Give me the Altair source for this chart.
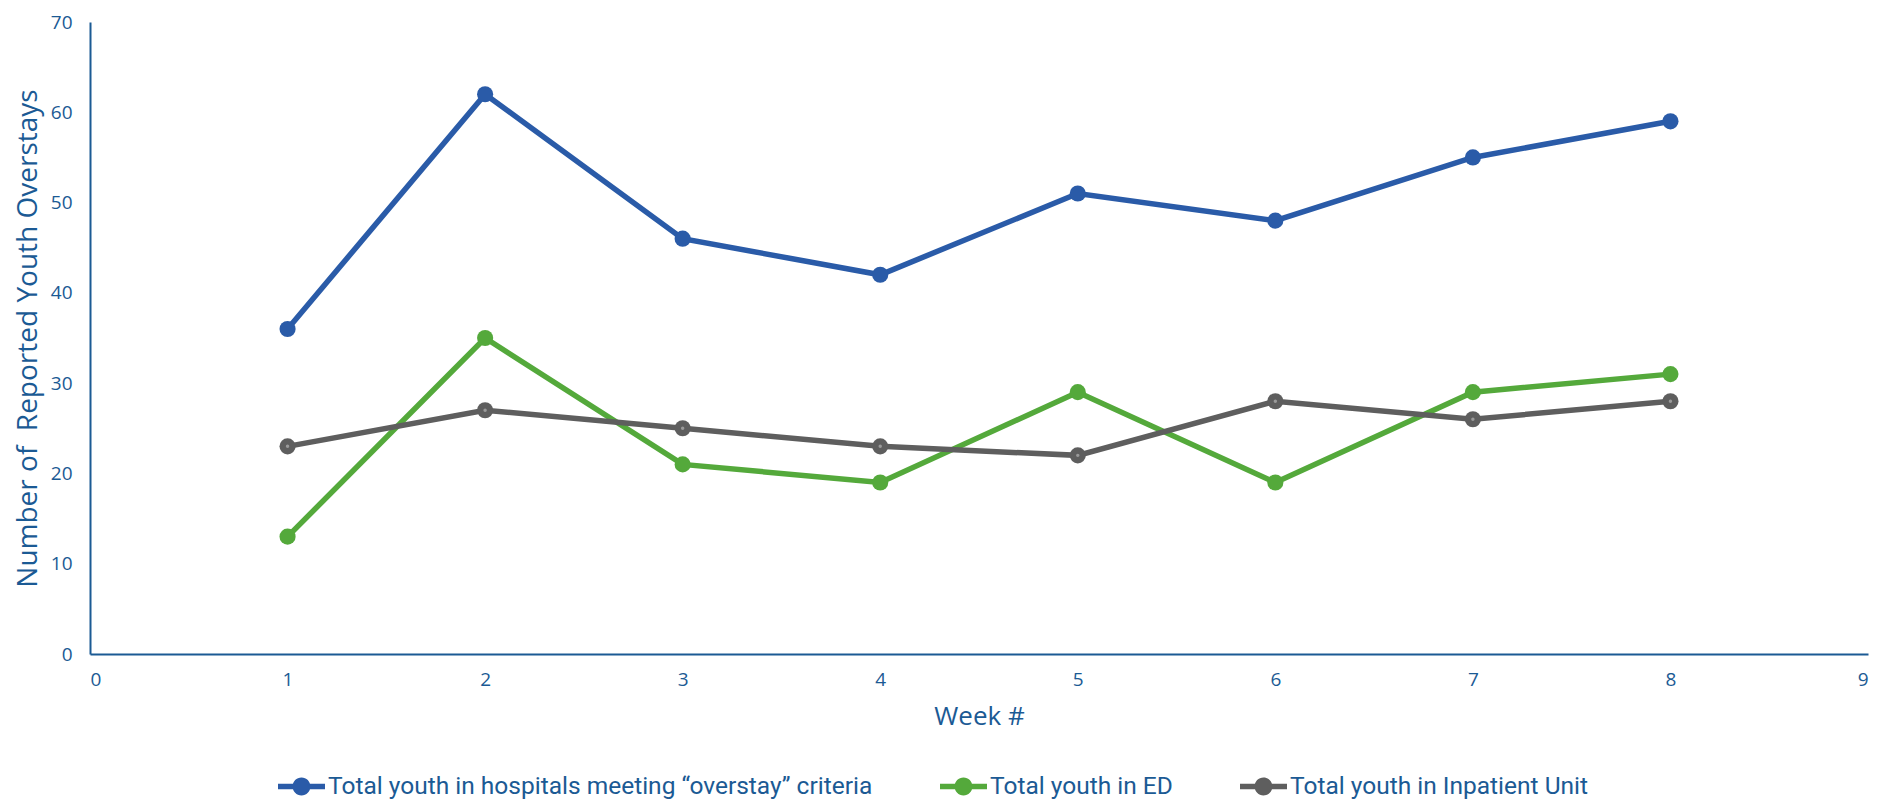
import altair as alt
import pandas as pd

weeks = [1, 2, 3, 4, 5, 6, 7, 8]
series_names = [
    "Total youth in hospitals meeting \u201coverstay\u201d criteria",
    "Total youth in ED",
    "Total youth in Inpatient Unit",
]
overstay = [36, 62, 46, 42, 51, 48, 55, 59]
ed = [13, 35, 21, 19, 29, 19, 29, 31]
inpatient = [23, 27, 25, 23, 22, 28, 26, 28]
colors = ["#2A5BA8", "#54A93B", "#5E5E5E"]
x_ticks = [0, 1, 2, 3, 4, 5, 6, 7, 8, 9]
y_ticks = [0, 10, 20, 30, 40, 50, 60, 70]

rows = []
for name, vals in zip(series_names, [overstay, ed, inpatient]):
    for w, v in zip(weeks, vals):
        rows.append({"week": w, "value": v, "series": name})
df = pd.DataFrame(rows)

TXT = "#1B5A94"

x = alt.X("week:Q", scale=alt.Scale(domain=[0, 9], nice=False),
          axis=alt.Axis(values=x_ticks, title="Week #", format="d"))
y = alt.Y("value:Q", scale=alt.Scale(domain=[0, 70], nice=False),
          axis=alt.Axis(values=y_ticks, title="Number of\u00a0 Reported Youth Overstays", format="d"))
color_scale = alt.Scale(domain=series_names, range=colors)

sym = ("M-1,-0.115L1,-0.115L1,0.115L-1,0.115Z "
       "M-0.38,0A0.38,0.38,0,1,1,0.38,0A0.38,0.38,0,1,1,-0.38,0Z")

legend = alt.Legend(title=None, orient="none", direction="horizontal",
                    legendX=188, legendY=741,
                    symbolType=sym, symbolSize=2209,
                    symbolStrokeWidth=0, symbolOpacity=1,
                    labelFont="Roboto",
                    labelFontSize=24.5, labelColor=TXT,
                    labelOffset=3, columnPadding=67,
                    labelLimit=1000)
color = alt.Color("series:N", scale=color_scale, sort=series_names, legend=legend)

base = alt.Chart(df)
lines = base.mark_line(strokeWidth=5.5).encode(x=x, y=y, color=color, detail="series:N")
points = base.mark_circle(size=260, opacity=1).encode(x=x, y=y, color=color)
dots = base.transform_filter(alt.datum.series == series_names[2]).mark_circle(
    size=12, opacity=1, color="#9A9A9A").encode(x=x, y=y)

chart = alt.layer(lines, points, dots).properties(
    width=1778, height=632,
    padding={"left": 6, "top": 5, "right": 5, "bottom": 2},
).configure_view(stroke=None).configure_axis(
    grid=False, ticks=False, domainColor=TXT, domainWidth=2,
    labelColor=TXT, labelFont="Open Sans", labelFontSize=19,
    titleColor=TXT, titleFont="Open Sans", titleFontSize=26, titleFontWeight="normal",
).configure_axisY(labelPadding=18, titlePadding=8, titleFontSize=28).configure_axisX(
    labelPadding=16, titlePadding=14)

chart.save("out.html", embed_options={"renderer": "svg", "actions": False})
